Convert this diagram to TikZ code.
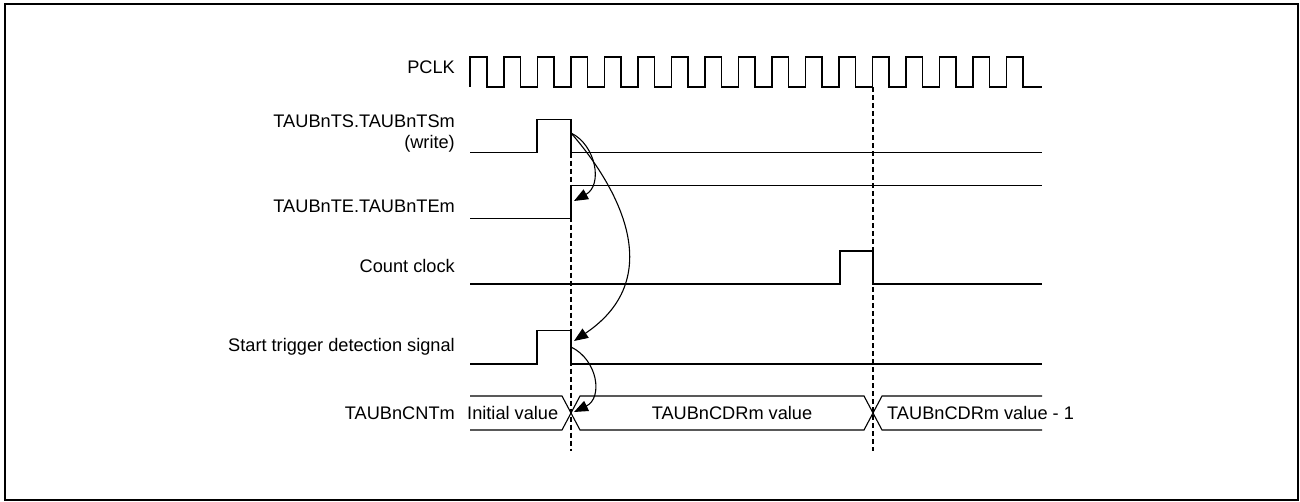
\documentclass[tikz,border=0pt]{standalone}
\usepackage{fontspec}
\setmainfont{Liberation Sans}
\usetikzlibrary{arrows.meta}
\begin{document}
\begin{tikzpicture}[x=1pt,y=-1pt,
  sig/.style={line width=1.1pt,line join=miter},
  lbl/.style={inner sep=0pt,font=\fontsize{18.2}{21}\selectfont},
  guide/.style={line width=1.1pt,dash pattern=on 5pt off 3pt},
  cause/.style={line width=1.1pt,-{Triangle[length=14pt,width=11pt]}}]
\useasboundingbox (0,0) rectangle (1300,502);
\draw[line width=2pt] (5,4.5) rectangle (1297.5,500);

% labels
\node[lbl,anchor=base east] (lpclk) at (455,74) {PCLK};
\node[lbl,anchor=base east] (lts1) at (455,128) {TAUBnTS.TAUBnTSm};
\node[lbl,anchor=base east] (lts2) at (455,149) {(write)};
\node[lbl,anchor=base east] (lte) at (455,213) {TAUBnTE.TAUBnTEm};
\node[lbl,anchor=base east] (lcc) at (455,273) {Count clock};
\node[lbl,anchor=base east] (lstd) at (455,352) {Start trigger detection signal};
\node[lbl,anchor=base east] (lcnt) at (455,419.5) {TAUBnCNTm};

% PCLK
\draw[sig] (470,87) -- (470,57)
  \foreach \k in {0,...,15} { -- ({487+33.5*\k},57) -- ({487+33.5*\k},87) -- ({504+33.5*\k},87) -- ({504+33.5*\k},57) }
  -- (1023,57) -- (1023,87) -- (1042,87);

% TAUBnTS
\draw[sig] (470,152.7) -- (537,152.7) -- (537,119.3) -- (571,119.3) -- (571,152.7) -- (1042,152.7);
% TAUBnTE
\draw[sig] (470,218.3) -- (571,218.3) -- (571,185.3) -- (1042,185.3);
% Count clock
\draw[sig] (470,284) -- (840,284) -- (840,251) -- (873,251) -- (873,284) -- (1042,284);
% Start trigger detection
\draw[sig] (470,364) -- (537,364) -- (537,330.7) -- (571,330.7) -- (571,364) -- (1042,364);
% TAUBnCNTm bus
\draw[sig] (470,396) -- (562,396) -- (580,430) -- (864,430) -- (882,396) -- (1042,396);
\draw[sig] (470,430) -- (562,430) -- (580,396) -- (864,396) -- (882,430) -- (1042,430);
\node[lbl,anchor=base west] (vinit) at (467,419.5) {Initial value};
\node[lbl,anchor=base] (vcdr) at (732,419.5) {TAUBnCDRm value};
\node[lbl,anchor=base west] (vcdr1) at (887,419.5) {TAUBnCDRm value - 1};

% guides
\coordinate (g1t) at (571,152.7);
\coordinate (g1b) at (571,451);
\coordinate (g2t) at (873,87);
\coordinate (g2b) at (873,451);
\draw[guide] (g1t) -- (g1b);
\draw[guide] (g2t) -- (g2b);

% cause arrows
\coordinate (tsfall) at (571,133);
\coordinate (terise) at (574,201);
\coordinate (stdrise) at (574,341);
\coordinate (stdfall) at (571,347);
\coordinate (cntchg) at (574,412);
\draw[cause] (tsfall) .. controls (596,145) and (603,185) .. (terise);
\draw[cause] (tsfall) .. controls (612,180) and (672,275) .. (stdrise);
\draw[cause] (stdfall) .. controls (598,360) and (603,398) .. (cntchg);
\end{tikzpicture}
\end{document}
